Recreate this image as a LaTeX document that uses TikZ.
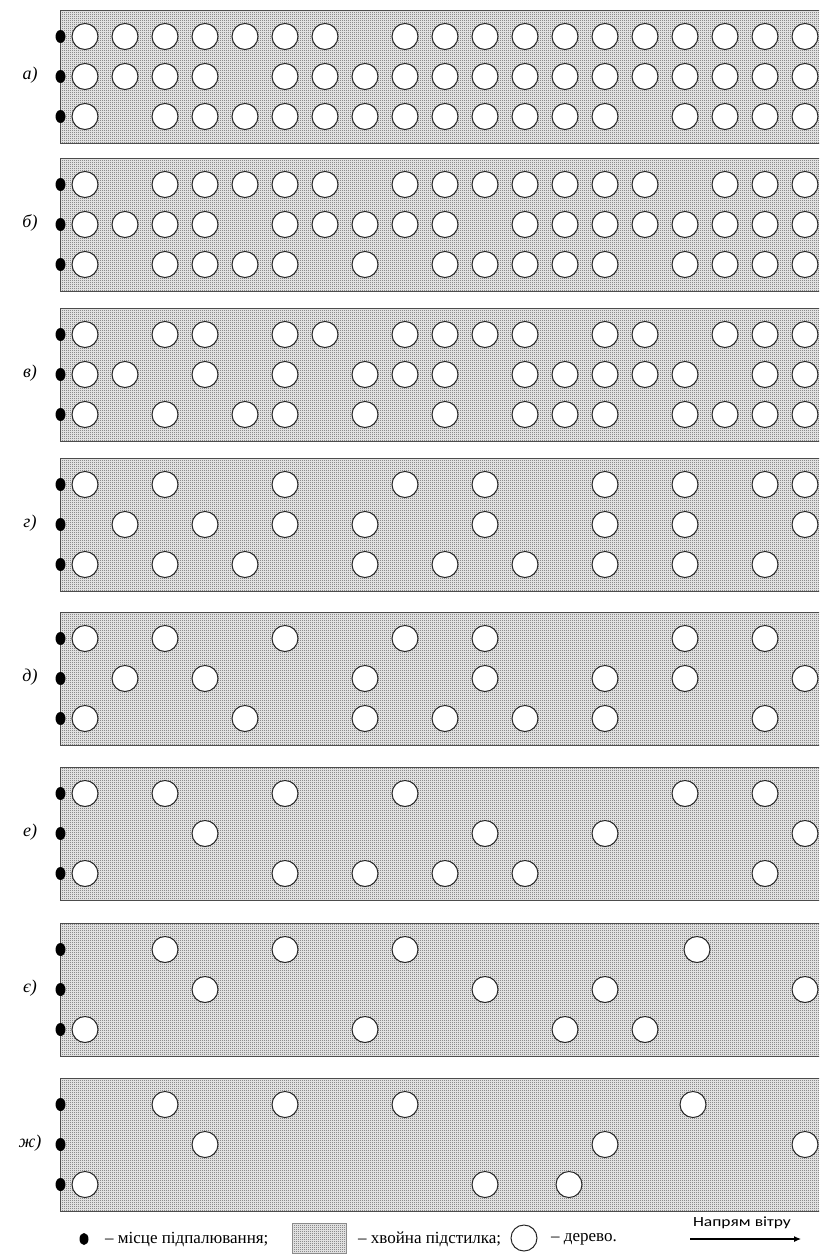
\documentclass[tikz,border=0pt]{standalone}
\usepackage{fontspec}
\setmainfont{Liberation Serif}
\newfontfamily\windfont{Carlito}
\usetikzlibrary{arrows.meta,shapes.geometric,patterns}
\pgfdeclarepatternformonly{litter}{\pgfpointorigin}{\pgfpoint{2pt}{2pt}}{\pgfpoint{2pt}{2pt}}%
  {\pgfpathrectangle{\pgfpointorigin}{\pgfpoint{1pt}{1pt}}\pgfusepath{fill}}

\begin{document}
\begin{tikzpicture}[x=1pt, y=-1pt, >=Latex,
  panel/.style={rectangle, draw=black!70, line width=1.2pt, preaction={fill=black!12},
    pattern=litter, pattern color=black!90,
    minimum width=780pt, minimum height=133pt, inner sep=0pt, anchor=north west},
  tree/.style={circle, draw=black!85, line width=1pt, fill=white, minimum size=26pt, inner sep=0pt},
  ignite/.style={ellipse, fill=black, minimum width=10pt, minimum height=13pt, inner sep=0pt},
  tag/.style={font=\fontsize{18}{20}\selectfont\itshape, inner sep=0pt},
  note/.style={font=\fontsize{17}{19}\selectfont, anchor=west, inner sep=0pt},
  windarr/.style={-{Latex[length=7pt,width=6pt]}, line width=1.1pt}]
\useasboundingbox (0,0) rectangle (819,1255);
\clip (0,0) rectangle (819,1255);

% panels: id / label / top / trees of rows 1-3 (column index)
\foreach \pid/\lab/\ytop/\rowa/\rowb/\rowc in {
  a/а)/10/{0,1,2,3,4,5,6,8,9,10,11,12,13,14,15,16,17,18}/{0,1,2,3,5,6,7,8,9,10,11,12,13,14,15,16,17,18}/{0,2,3,4,5,6,7,8,9,10,11,12,13,15,16,17,18},
  b/б)/158/{0,2,3,4,5,6,8,9,10,11,12,13,14,16,17,18}/{0,1,2,3,5,6,7,8,9,11,12,13,14,15,16,17,18}/{0,2,3,4,5,7,9,10,11,12,13,15,16,17,18},
  v/в)/308/{0,2,3,5,6,8,9,10,11,13,14,16,17,18}/{0,1,3,5,7,8,9,11,12,13,14,15,17,18}/{0,2,4,5,7,9,11,12,13,15,16,17,18},
  g/г)/458/{0,2,5,8,10,13,15,17,18}/{1,3,5,7,10,13,15,18}/{0,2,4,7,9,11,13,15,17},
  d/д)/612/{0,2,5,8,10,15,17}/{1,3,7,10,13,15,18}/{0,4,7,9,11,13,17},
  e/е)/767/{0,2,5,8,15,17}/{3,10,13,18}/{0,5,7,9,11,17},
  ye/є)/923/{2,5,8,15.3}/{3,10,13,18}/{0,7,12,14},
  zh/ж)/1078/{2,5,8,15.2}/{3,13,18}/{0,10,12.1}}{
  \node[panel] (p-\pid) at (60,\ytop) {};
  \node[tag] (l-\pid) at (30,{\ytop+65}) {\lab};
  \foreach \r in {1,2,3}
    \node[ignite] (f-\pid-\r) at (60.5,{\ytop-13.5+40*\r}) {};
  \foreach \k [count=\n] in \rowa
    \node[tree] (t-\pid-1-\n) at ({85+40*\k},{\ytop+26.5}) {};
  \foreach \k [count=\n] in \rowb
    \node[tree] (t-\pid-2-\n) at ({85+40*\k},{\ytop+66.5}) {};
  \foreach \k [count=\n] in \rowc
    \node[tree] (t-\pid-3-\n) at ({85+40*\k},{\ytop+106.5}) {};
}

% legend
\node[ignite, minimum width=9pt, minimum height=12pt] (k-fire) at (84,1239) {};
\node[note] (k-fire-txt) at (105,1239) {– місце підпалювання;};
\node[panel, anchor=center, minimum width=54pt, minimum height=30pt, draw=black!45, line width=0.6pt] (k-litter) at (319,1238) {};
\node[note] (k-litter-txt) at (358,1239) {– хвойна підстилка;};
\node[tree] (k-tree) at (524,1238) {};
\node[note] (k-tree-txt) at (551,1239) {– дерево.};
\node[font=\windfont\fontsize{14}{16}\selectfont] (wind) at (742,1223) {\scalebox{1.25}[1]{Напрям вітру}};
\coordinate (wind-a) at (690,1239);
\coordinate (wind-b) at (801,1239);
\draw[windarr] (wind-a) -- (wind-b);
\end{tikzpicture}
\end{document}
